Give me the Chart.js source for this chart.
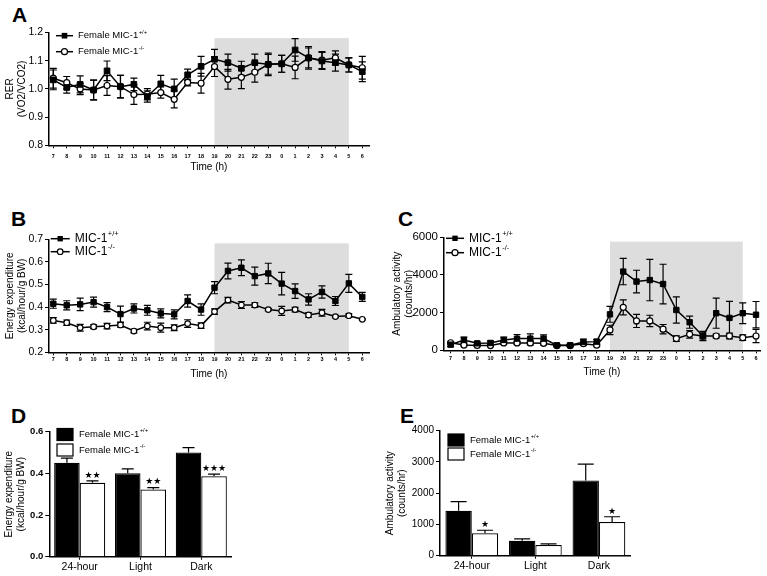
<!DOCTYPE html>
<html>
<head>
<meta charset="utf-8">
<script src="https://cdn.jsdelivr.net/npm/chart.js@4.4.1/dist/chart.umd.min.js"></script>
<style>
html, body { margin: 0; padding: 0; background: #fff; }
body { position: relative; width: 767px; height: 576px; overflow: hidden; }
canvas { position: absolute; }
.tag { position: absolute; font: bold 21px/21px "Liberation Sans", Arial, sans-serif; color: #000; }
</style>
</head>
<body>
<div class="tag" style="left:12px;top:4px">A</div>
<div class="tag" style="left:11px;top:208px">B</div>
<div class="tag" style="left:398px;top:208px">C</div>
<div class="tag" style="left:11px;top:405px">D</div>
<div class="tag" style="left:400px;top:405px">E</div>

<canvas id="chartA" width="380" height="180" style="left:0;top:0"></canvas>
<canvas id="chartB" width="380" height="195" style="left:0;top:190px"></canvas>
<canvas id="chartC" width="377" height="195" style="left:390px;top:190px"></canvas>
<canvas id="chartD" width="380" height="186" style="left:0;top:390px"></canvas>
<canvas id="chartE" width="384" height="186" style="left:383px;top:390px"></canvas>

<script>
'use strict';

const FONT = '"Liberation Sans", Arial, sans-serif';

// ── Time axis (hours of the day, light phase first) ────────────────────────
const hours = [7, 8, 9, 10, 11, 12, 13, 14, 15, 16, 17, 18, 19, 20, 21, 22, 23, 0, 1, 2, 3, 4, 5, 6];
const darkFrom = 12;   // index of 19 h
const darkTo = 22;     // index of 5 h

// ── A: RER ─────────────────────────────────────────────────────────────────
const rerWT    = [1.032, 1.005, 1.016, 0.996, 1.064, 1.008, 1.016, 0.973, 1.018, 1.000, 1.050, 1.080,
                  1.105, 1.093, 1.073, 1.093, 1.087, 1.089, 1.138, 1.110, 1.099, 1.093, 1.085, 1.061];
const rerWTErr = [0.035, 0.020, 0.030, 0.035, 0.035, 0.040, 0.022, 0.020, 0.030, 0.035, 0.020, 0.035,
                  0.035, 0.030, 0.025, 0.030, 0.035, 0.030, 0.040, 0.035, 0.030, 0.030, 0.025, 0.035];
const rerKO    = [1.038, 1.022, 1.000, 0.996, 1.012, 1.008, 0.980, 0.981, 0.987, 0.963, 1.023, 1.020,
                  1.079, 1.034, 1.041, 1.059, 1.087, 1.089, 1.076, 1.110, 1.102, 1.110, 1.085, 1.075];
const rerKOErr = [0.035, 0.022, 0.020, 0.035, 0.035, 0.040, 0.035, 0.020, 0.020, 0.030, 0.012, 0.035,
                  0.035, 0.035, 0.040, 0.035, 0.040, 0.030, 0.040, 0.040, 0.030, 0.025, 0.025, 0.040];

// ── B: energy expenditure per hour ─────────────────────────────────────────
const eeWT    = [0.415, 0.408, 0.412, 0.422, 0.400, 0.369, 0.394, 0.386, 0.372, 0.368, 0.427, 0.389,
                 0.486, 0.560, 0.574, 0.537, 0.549, 0.504, 0.471, 0.434, 0.467, 0.427, 0.505, 0.445];
const eeWTErr = [0.020, 0.020, 0.028, 0.022, 0.020, 0.035, 0.020, 0.022, 0.020, 0.020, 0.027, 0.025,
                 0.027, 0.035, 0.035, 0.040, 0.045, 0.050, 0.032, 0.025, 0.027, 0.020, 0.040, 0.020];
const eeKO    = [0.341, 0.331, 0.309, 0.313, 0.316, 0.321, 0.294, 0.316, 0.309, 0.309, 0.327, 0.318,
                 0.380, 0.431, 0.409, 0.409, 0.389, 0.383, 0.389, 0.365, 0.375, 0.358, 0.362, 0.346];
const eeKOErr = [0.012, 0.012, 0.015, 0.008, 0.012, 0.010, 0.008, 0.017, 0.020, 0.013, 0.017, 0.012,
                 0.012, 0.012, 0.015, 0.010, 0.005, 0.020, 0.010, 0.010, 0.015, 0.005, 0.008, 0.003];

// ── C: ambulatory activity per hour ────────────────────────────────────────
const actWT    = [300, 550, 370, 390, 550, 620, 620, 620, 270, 270, 440, 460,
                  1910, 4180, 3650, 3730, 3520, 2140, 1490, 760, 1970, 1720, 1970, 1890];
const actWTErr = [100, 150, 80, 100, 150, 220, 250, 200, 60, 60, 150, 120,
                  420, 700, 600, 1100, 1050, 700, 320, 250, 800, 880, 550, 700];
const actKO    = [400, 280, 260, 250, 390, 390, 390, 370, 250, 250, 350, 270,
                  1080, 2280, 1560, 1560, 1120, 620, 850, 760, 760, 760, 670, 760];
const actKOErr = [60, 50, 50, 50, 80, 80, 100, 80, 50, 50, 80, 50,
                  250, 400, 350, 300, 250, 150, 200, 150, 100, 150, 150, 350];

// ── D / E: period averages ─────────────────────────────────────────────────
const periods = ['24-hour', 'Light', 'Dark'];
const eeBarWT     = [0.451, 0.400, 0.500];
const eeBarWTErr  = [0.022, 0.022, 0.024];
const eeBarKO     = [0.355, 0.322, 0.386];
const eeBarKOErr  = [0.009, 0.010, 0.010];
const eeStars     = ['\u2605\u2605', '\u2605\u2605', '\u2605\u2605\u2605'];
const actBarWT    = [1440, 480, 2410];
const actBarWTErr = [290, 60, 520];
const actBarKO    = [715, 340, 1077];
const actBarKOErr = [100, 40, 170];
const actStars    = ['\u2605', '', '\u2605'];

const pts = vals => vals.map((v, i) => ({ x: i, y: v }));

// ── plugins ────────────────────────────────────────────────────────────────
const shadePlugin = {
    id: 'shade',
    beforeDraw(chart, args, o) {
        if (o.top == null) return;
        const { x, y } = chart.scales;
        const ctx = chart.ctx;
        const left = x.getPixelForValue(o.from);
        const right = x.getPixelForValue(o.to);
        const top = y.getPixelForValue(o.top);
        ctx.save();
        ctx.fillStyle = '#dddddd';
        ctx.fillRect(left, top, right - left, chart.chartArea.bottom - top);
        ctx.restore();
    },
};

function drawErrors(chart, o) {
    const ctx = chart.ctx;
    const ys = chart.scales.y;
    ctx.save();
    ctx.strokeStyle = '#000';
    ctx.lineWidth = 1.2;
    chart.data.datasets.forEach((ds, di) => {
        if (!ds.errors) return;
        const meta = chart.getDatasetMeta(di);
        meta.data.forEach((el, i) => {
            const raw = ds.data[i];
            const v = typeof raw === 'object' ? raw.y : raw;
            const e = ds.errors[i];
            const top = ys.getPixelForValue(v + e);
            const bot = ys.getPixelForValue(o.upOnly ? v : v - e);
            ctx.beginPath();
            ctx.moveTo(el.x, top);
            ctx.lineTo(el.x, bot);
            ctx.moveTo(el.x - o.cap, top);
            ctx.lineTo(el.x + o.cap, top);
            if (!o.upOnly) {
                ctx.moveTo(el.x - o.cap, bot);
                ctx.lineTo(el.x + o.cap, bot);
            }
            ctx.stroke();
            if (ds.stars && ds.stars[i]) {
                ctx.fillStyle = '#000';
                ctx.font = '9px "DejaVu Sans", sans-serif';
                ctx.textAlign = 'center';
                ctx.textBaseline = 'bottom';
                ctx.fillText(ds.stars[i], el.x, top - 1);
            }
        });
    });
    ctx.restore();
}

const errorPlugin = {
    id: 'errs',
    beforeDatasetsDraw(chart, args, o) { if (!o.upOnly) drawErrors(chart, o); },
    afterDatasetsDraw(chart, args, o) { if (o.upOnly) drawErrors(chart, o); },
};

function drawMarker(ctx, ds, x, y) {
    const r = ds.pointRadius;
    ctx.lineWidth = ds.pointBorderWidth;
    ctx.strokeStyle = '#000';
    ctx.fillStyle = ds.pointBackgroundColor;
    if (ds.pointStyle === 'rect') {
        const s = r * Math.SQRT1_2;
        ctx.fillRect(x - s, y - s, 2 * s, 2 * s);
    } else {
        ctx.beginPath();
        ctx.arc(x, y, r, 0, Math.PI * 2);
        ctx.fill();
        ctx.stroke();
    }
}

const keyPlugin = {
    id: 'key',
    afterDraw(chart, args, o) {
        if (o.x == null) return;
        const ctx = chart.ctx;
        ctx.save();
        chart.data.datasets.forEach((ds, i) => {
            const y = o.y + i * o.gap;
            let tx;
            if (o.box) {
                ctx.fillStyle = ds.backgroundColor;
                ctx.strokeStyle = '#000';
                ctx.lineWidth = 1.2;
                ctx.fillRect(o.x, y - 6, 16, 12);
                ctx.strokeRect(o.x, y - 6, 16, 12);
                tx = o.x + 22;
            } else {
                ctx.strokeStyle = '#000';
                ctx.lineWidth = 1.5;
                ctx.beginPath();
                ctx.moveTo(o.x, y);
                ctx.lineTo(o.x + o.len, y);
                ctx.stroke();
                drawMarker(ctx, ds, o.x + o.len / 2, y);
                tx = o.x + o.len + 5;
            }
            ctx.fillStyle = '#000';
            ctx.textBaseline = 'middle';
            ctx.textAlign = 'left';
            ctx.font = o.size + 'px ' + FONT;
            ctx.fillText(ds.label, tx, y);
            const w = ctx.measureText(ds.label).width;
            ctx.font = (o.size * 0.62) + 'px ' + FONT;
            ctx.fillText(ds.sup, tx + w + 0.5, y - o.size * 0.4);
        });
        ctx.restore();
    },
};

// ── builders ───────────────────────────────────────────────────────────────
function wtLine(label, vals, errs, r) {
    return {
        label: label, sup: '+/+', data: pts(vals), errors: errs,
        borderColor: '#000', borderWidth: 1.5, tension: 0,
        pointStyle: 'rect', pointRadius: r, pointBorderWidth: 1,
        pointBackgroundColor: '#000', pointBorderColor: '#000',
    };
}

function koLine(label, vals, errs, r) {
    return {
        label: label, sup: '-/-', data: pts(vals), errors: errs,
        borderColor: '#000', borderWidth: 1.5, tension: 0,
        pointStyle: 'circle', pointRadius: r, pointBorderWidth: 1.2,
        pointBackgroundColor: '#fff', pointBorderColor: '#000',
    };
}

function yAxis(min, max, step, width, title, titlePad, tickFont, fmt) {
    return {
        min: min, max: max,
        afterFit: s => { s.width = width; },
        ticks: { stepSize: step, color: '#000', padding: 2, font: tickFont, callback: fmt },
        grid: { drawOnChartArea: false, drawTicks: true, tickLength: 4, color: '#000', lineWidth: 1 },
        border: { color: '#000', width: 1.5 },
        title: { display: true, text: title, color: '#000',
                 font: { family: FONT, size: 10, lineHeight: 1.2 }, padding: { top: titlePad, bottom: 0 } },
    };
}

function hourAxis(min, max, height, tickPad, titlePad) {
    return {
        type: 'linear', min: min, max: max,
        afterFit: s => { s.height = height; },
        ticks: { stepSize: 1, includeBounds: false, autoSkip: false, maxRotation: 0, color: '#000',
                 padding: tickPad, font: { family: FONT, size: 5.5, weight: 'bold' },
                 callback: v => hours[v] },
        grid: { drawOnChartArea: false, drawTicks: true, tickLength: 3, color: '#000', lineWidth: 1 },
        border: { color: '#000', width: 1.5 },
        title: { display: true, text: 'Time (h)', color: '#000',
                 font: { family: FONT, size: 10, lineHeight: 1.2 }, padding: { top: 0, bottom: titlePad } },
    };
}

function periodAxis(height) {
    return {
        afterFit: s => { s.height = height; },
        ticks: { color: '#000', padding: 1, maxRotation: 0, font: { family: FONT, size: 10.5 } },
        grid: { offset: false, drawOnChartArea: false, drawTicks: true, tickLength: 3, color: '#000', lineWidth: 1 },
        border: { color: '#000', width: 1.5 },
    };
}

const commonOpts = { responsive: false, animation: false, devicePixelRatio: 1 };
const allPlugins = [shadePlugin, errorPlugin, keyPlugin];

// ── A ──────────────────────────────────────────────────────────────────────
new Chart(document.getElementById('chartA'), {
    type: 'line',
    data: { datasets: [wtLine('Female MIC-1', rerWT, rerWTErr, 4.0), koLine('Female MIC-1', rerKO, rerKOErr, 3.0)] },
    plugins: allPlugins,
    options: Object.assign({}, commonOpts, {
        layout: { padding: { top: 32.5, right: 11, left: 0, bottom: 0 } },
        scales: {
            x: hourAxis(-0.32, 23.5, 34.7, 5, 7),
            y: yAxis(0.8, 1.2, 0.1, 49, ['RER', '(VO2/VCO2)'], 4, { family: FONT, size: 10.5 }, v => v.toFixed(1)),
        },
        plugins: {
            legend: { display: false }, tooltip: { enabled: false },
            shade: { from: darkFrom, to: darkTo, top: 1.18 },
            errs: { cap: 3.5, upOnly: false },
            key: { x: 56, y: 35.7, gap: 16, len: 17, size: 9.5 },
        },
    }),
});

// ── B ──────────────────────────────────────────────────────────────────────
new Chart(document.getElementById('chartB'), {
    type: 'line',
    data: { datasets: [wtLine('MIC-1', eeWT, eeWTErr, 3.8), koLine('MIC-1', eeKO, eeKOErr, 2.8)] },
    plugins: allPlugins,
    options: Object.assign({}, commonOpts, {
        layout: { padding: { top: 49.3, right: 11, left: 0, bottom: 0 } },
        scales: {
            x: hourAxis(-0.32, 23.5, 32.7, 1, 4.7),
            y: yAxis(0.2, 0.7, 0.1, 49, ['Energy expenditure', '(kcal/hour/g BW)'], 4, { family: FONT, size: 10.5 }, v => v.toFixed(1)),
        },
        plugins: {
            legend: { display: false }, tooltip: { enabled: false },
            shade: { from: darkFrom, to: darkTo, top: 0.682 },
            errs: { cap: 3.5, upOnly: false },
            key: { x: 50.7, y: 48.7, gap: 13, len: 19, size: 12 },
        },
    }),
});

// ── C ──────────────────────────────────────────────────────────────────────
new Chart(document.getElementById('chartC'), {
    type: 'line',
    data: { datasets: [wtLine('MIC-1', actWT, actWTErr, 3.8), koLine('MIC-1', actKO, actKOErr, 3.0)] },
    plugins: allPlugins,
    options: Object.assign({}, commonOpts, {
        layout: { padding: { top: 47.3, right: 7, left: 0, bottom: 0 } },
        scales: {
            x: hourAxis(-0.5, 23.3, 34.7, 2, 6.3),
            y: yAxis(0, 6000, 2000, 54, ['Ambulatory activity', '(counts/hr)'], 1.3, { family: FONT, size: 11.5 }, v => String(v)),
        },
        plugins: {
            legend: { display: false }, tooltip: { enabled: false },
            shade: { from: darkFrom, to: darkTo, top: 5770 },
            errs: { cap: 3.5, upOnly: false },
            key: { x: 56, y: 48.3, gap: 14.4, len: 18, size: 12 },
        },
    }),
});

// ── D ──────────────────────────────────────────────────────────────────────
new Chart(document.getElementById('chartD'), {
    type: 'bar',
    data: {
        labels: periods,
        datasets: [
            { label: 'Female MIC-1', sup: '+/+', data: eeBarWT, errors: eeBarWTErr,
              backgroundColor: '#000', borderColor: '#000', borderWidth: 1.2,
              categoryPercentage: 0.84, barPercentage: 1 },
            { label: 'Female MIC-1', sup: '-/-', data: eeBarKO, errors: eeBarKOErr, stars: eeStars,
              backgroundColor: '#fff', borderColor: '#000', borderWidth: 1.2,
              categoryPercentage: 0.84, barPercentage: 1 },
        ],
    },
    plugins: allPlugins,
    options: Object.assign({}, commonOpts, {
        layout: { padding: { top: 41.7, right: 148.3, left: 0, bottom: 0 } },
        scales: {
            x: periodAxis(19.3),
            y: yAxis(0, 0.6, 0.2, 49.3, ['Energy expenditure', '(kcal/hour/g BW)'], 3,
                     { family: FONT, size: 9.5, weight: 'bold' }, v => v.toFixed(1)),
        },
        plugins: {
            legend: { display: false }, tooltip: { enabled: false },
            errs: { cap: 6, upOnly: true },
            key: { x: 57, y: 44.5, gap: 15.5, box: true, size: 9.5 },
        },
    }),
});

// ── E ──────────────────────────────────────────────────────────────────────
new Chart(document.getElementById('chartE'), {
    type: 'bar',
    data: {
        labels: periods,
        datasets: [
            { label: 'Female MIC-1', sup: '+/+', data: actBarWT, errors: actBarWTErr,
              backgroundColor: '#000', borderColor: '#000', borderWidth: 1.2,
              categoryPercentage: 0.83, barPercentage: 1 },
            { label: 'Female MIC-1', sup: '-/-', data: actBarKO, errors: actBarKOErr, stars: actStars,
              backgroundColor: '#fff', borderColor: '#000', borderWidth: 1.2,
              categoryPercentage: 0.83, barPercentage: 1 },
        ],
    },
    plugins: allPlugins,
    options: Object.assign({}, commonOpts, {
        layout: { padding: { top: 40.7, right: 136.3, left: 0, bottom: 0 } },
        scales: {
            x: periodAxis(20.3),
            y: yAxis(0, 4000, 1000, 57, ['Ambulatory activity', '(counts/hr)'], 1.7,
                     { family: FONT, size: 10 }, v => String(v)),
        },
        plugins: {
            legend: { display: false }, tooltip: { enabled: false },
            errs: { cap: 8, upOnly: true },
            key: { x: 65, y: 50, gap: 14, box: true, size: 9.5 },
        },
    }),
});
</script>
</body>
</html>
